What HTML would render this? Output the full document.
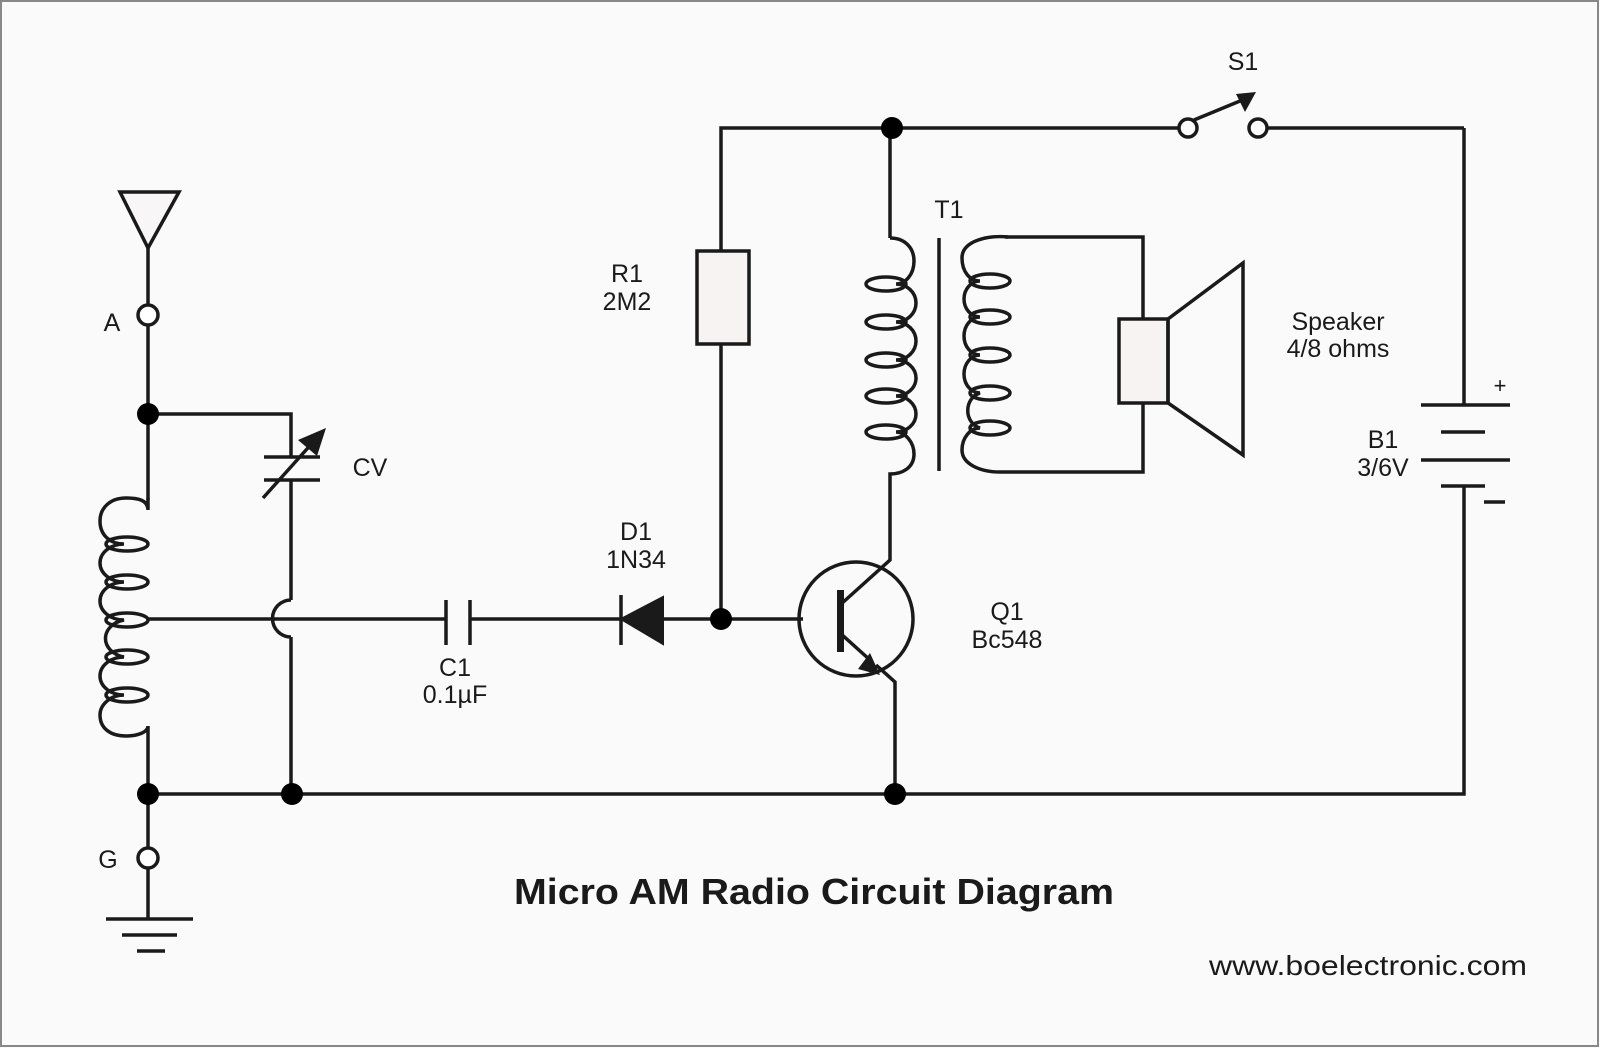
<!DOCTYPE html>
<html><head><meta charset="utf-8"><style>
html,body{margin:0;padding:0;background:#fafafa}
svg{display:block}
text{font-family:"Liberation Sans",Arial,sans-serif;fill:#1a1a1a}
</style></head><body>
<svg width="1600" height="1048" viewBox="0 0 1600 1048" xmlns="http://www.w3.org/2000/svg">
<rect x="1" y="1" width="1597" height="1045" fill="#fafafa" stroke="#888" stroke-width="2"/>
<g fill="none" stroke="#1a1a1a" stroke-width="3.5" stroke-linejoin="miter">
<!-- antenna -->
<polygon points="120,192 179,192 148,248" fill="#f8f6f6"/>
<line x1="148" y1="248" x2="148" y2="305"/>
<line x1="148" y1="325" x2="148" y2="500"/>
<circle cx="148" cy="315" r="10" fill="#fff"/>
<!-- CV -->
<polyline points="148,414 291,414 291,457"/>
<line x1="264" y1="457" x2="320" y2="457"/>
<line x1="264" y1="480" x2="320" y2="480"/>
<line x1="291" y1="480" x2="291" y2="600"/>
<path d="M291,600 A18,18 0 0 0 291,637"/>
<line x1="291" y1="637" x2="291" y2="794"/>
<line x1="263" y1="498" x2="315" y2="440"/>
<!-- left coil -->
<path d="M148,498 L148,510 C148,500 138,498 126,498 C110,498 100,508 100,521 C100,535 110,544 124,544 A24,19 0 0 0 124,582 A24,19 0 0 0 124,620 A24,19 0 0 0 124,657 A24,19 0 0 0 124,695 C110,695 100,705 100,715 C100,728 110,736 126,736 C138,736 148,732 148,726 L148,794"/>
<ellipse cx="127" cy="544" rx="21" ry="7"/>
<ellipse cx="127" cy="582" rx="21" ry="7"/>
<ellipse cx="127" cy="620" rx="21" ry="7"/>
<ellipse cx="127" cy="657" rx="21" ry="7"/>
<ellipse cx="127" cy="695" rx="21" ry="7"/>
<!-- tap line -->
<line x1="148" y1="619" x2="446" y2="619"/>
<line x1="446" y1="600" x2="446" y2="645"/>
<line x1="470" y1="600" x2="470" y2="645"/>
<line x1="470" y1="619" x2="621" y2="619"/>
<!-- diode -->
<line x1="621" y1="595" x2="621" y2="645"/>
<line x1="663" y1="619" x2="803" y2="619"/>
<!-- ground line -->
<polyline points="148,794 1464,794 1464,505"/>
<line x1="148" y1="794" x2="148" y2="848"/>
<circle cx="148" cy="858" r="10" fill="#fff"/>
<line x1="148" y1="868" x2="148" y2="919"/>
<line x1="106" y1="919" x2="193" y2="919"/>
<line x1="122" y1="935" x2="177" y2="935"/>
<line x1="137" y1="951" x2="165" y2="951"/>
<!-- R1 -->
<polyline points="721,619 721,344"/>
<rect x="697" y="251" width="52" height="93" fill="#f8f3f3"/>
<polyline points="721,251 721,128 1179,128"/>
<line x1="1268" y1="128" x2="1464" y2="128"/>
<line x1="1464" y1="128" x2="1464" y2="405"/>
<!-- switch -->
<circle cx="1188" cy="128" r="9" fill="#fff"/>
<circle cx="1258" cy="128" r="9" fill="#fff"/>
<line x1="1194" y1="120" x2="1240" y2="101"/>
<!-- primary -->
<line x1="890" y1="128" x2="890" y2="238"/>
<path d="M890,238 C905,238 914,248 914,261 C914,275 905,284 896,284 A20,19 0 0 1 896,322 A20,19 0 0 1 896,360 A20,18 0 0 1 896,396 A20,18 0 0 1 896,432 C905,432 914,442 914,454 C914,468 902,474 890,474 L890,560 L840,605"/>
<ellipse cx="886" cy="284" rx="20" ry="7"/>
<ellipse cx="886" cy="322" rx="20" ry="7"/>
<ellipse cx="886" cy="360" rx="20" ry="7"/>
<ellipse cx="886" cy="396" rx="20" ry="7"/>
<ellipse cx="886" cy="432" rx="20" ry="7"/>
<line x1="939" y1="238" x2="939" y2="471"/>
<!-- secondary -->
<path d="M1008,237 C990,235 962,240 962,258 C962,272 970,281 980,281 A16,18 0 0 0 980,317 A16,19 0 0 0 980,355 A16,19 0 0 0 980,393 A16,18 0 0 0 980,428 C970,428 962,438 962,450 C962,464 980,472 1000,472"/>
<ellipse cx="990" cy="281" rx="20" ry="7"/>
<ellipse cx="990" cy="317" rx="20" ry="7"/>
<ellipse cx="990" cy="355" rx="20" ry="7"/>
<ellipse cx="990" cy="393" rx="20" ry="7"/>
<ellipse cx="990" cy="428" rx="20" ry="7"/>
<polyline points="1005,237 1143,237 1143,319"/>
<polyline points="1000,472 1143,472 1143,403"/>
<!-- speaker -->
<rect x="1119" y="319" width="49" height="84" fill="#f8f3f3"/>
<polygon points="1168,319 1243,263 1243,455 1168,403"/>
<!-- battery -->
<line x1="1421" y1="405" x2="1510" y2="405"/>
<line x1="1441" y1="432" x2="1485" y2="432"/>
<line x1="1421" y1="460" x2="1510" y2="460"/>
<line x1="1441" y1="486" x2="1485" y2="486"/>
<line x1="1464" y1="486" x2="1464" y2="505"/>
<line x1="1484" y1="502" x2="1505" y2="502"/>
<!-- transistor -->
<circle cx="856" cy="619" r="57"/>
<line x1="840" y1="633" x2="870" y2="660"/>
<polyline points="876,665 895,682 895,794"/>
</g>
<!-- bars/filled -->
<rect x="837" y="590" width="7" height="62" fill="#1a1a1a"/>
<polygon points="621,619 663,597 663,644" fill="#1a1a1a" stroke="#1a1a1a" stroke-width="2"/>
<polygon points="326,428 317,456 298,440" fill="#1a1a1a"/>
<polygon points="1256,92 1245,112 1236,94" fill="#1a1a1a"/>
<polygon points="880,675 858,669 870,653" fill="#1a1a1a"/>
<g fill="#000">
<circle cx="148" cy="414" r="11"/>
<circle cx="148" cy="794" r="11"/>
<circle cx="292" cy="794" r="11"/>
<circle cx="895" cy="794" r="11"/>
<circle cx="721" cy="619" r="11"/>
<circle cx="892" cy="128" r="11"/>
</g>
<g font-size="25">
<text x="112" y="331" text-anchor="middle">A</text>
<text x="108" y="868" text-anchor="middle">G</text>
<text x="370" y="476" text-anchor="middle">CV</text>
<text x="455" y="676" text-anchor="middle">C1</text>
<text x="455" y="703" text-anchor="middle">0.1µF</text>
<text x="636" y="540" text-anchor="middle">D1</text>
<text x="636" y="568" text-anchor="middle">1N34</text>
<text x="627" y="282" text-anchor="middle">R1</text>
<text x="627" y="310" text-anchor="middle">2M2</text>
<text x="949" y="218" text-anchor="middle">T1</text>
<text x="1007" y="620" text-anchor="middle">Q1</text>
<text x="1007" y="648" text-anchor="middle">Bc548</text>
<text x="1243" y="70" text-anchor="middle">S1</text>
<text x="1338" y="330" text-anchor="middle">Speaker</text>
<text x="1338" y="357" text-anchor="middle">4/8 ohms</text>
<text x="1383" y="448" text-anchor="middle">B1</text>
<text x="1383" y="476" text-anchor="middle">3/6V</text>
<text x="1500" y="393" text-anchor="middle" font-size="22">+</text>
</g>
<text x="814" y="904" text-anchor="middle" font-size="36" font-weight="bold" textLength="600" lengthAdjust="spacingAndGlyphs">Micro AM Radio Circuit Diagram</text>
<text x="1368" y="975" text-anchor="middle" font-size="28" textLength="318" lengthAdjust="spacingAndGlyphs">www.boelectronic.com</text>
</svg>
</body></html>
